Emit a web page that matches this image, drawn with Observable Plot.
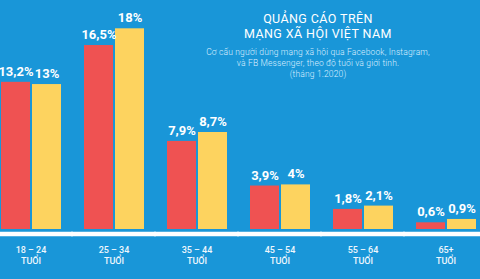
<!DOCTYPE html>
<html>
<head>
<meta charset="utf-8">
<script src="https://cdn.jsdelivr.net/npm/d3@7"></script>
<script src="https://cdn.jsdelivr.net/npm/@observablehq/plot@0.6"></script>
<style>
  html, body { margin: 0; padding: 0; background: #1996d8; }
  #wrap { position: relative; width: 480px; height: 279px; overflow: hidden; background: #1996d8; }
  #title { position: absolute; left: 198px; width: 240px; top: 0; text-align: center; color: #fff; font-family: Roboto, "Noto Sans", sans-serif; }
  #title .t { font-size: 12.5px; line-height: 14.5px; letter-spacing: 0.4px; margin-top: 12px; }
  #title .s { font-size: 8.5px; line-height: 11px; letter-spacing: 0.15px; color: #dcefff; margin-top: 6px; font-weight: 300; }
  svg { overflow: visible; }
</style>
</head>
<body>
<div id="wrap">
  <div id="chart"></div>
  <div id="title">
    <div class="t">QUẢNG CÁO TRÊN<br>MẠNG XÃ HỘI VIỆT NAM</div>
    <div class="s">Cơ cấu người dùng mạng xã hội qua Facebook, Instagram,<br>và FB Messenger, theo độ tuổi và giới tính.<br>(tháng 1.2020)</div>
  </div>
</div>
<script>
const groups = ["18 – 24", "25 – 34", "35 – 44", "45 – 54", "55 – 64", "65+"];
const groupSuffix = "TUỔI";
const series = ["Nam", "Nữ"];
const redValues = [13.2, 16.5, 7.9, 3.9, 1.8, 0.6];
const yellowValues = [13, 18, 8.7, 4, 2.1, 0.9];
const colors = ["#ef5252", "#fdd35f"];

const data = [];
groups.forEach((g, i) => {
  data.push({group: g, sex: series[0], value: redValues[i]});
  data.push({group: g, sex: series[1], value: yellowValues[i]});
});
const fmt = v => String(v).replace(".", ",") + "%";

const chart = Plot.plot({
  width: 480,
  height: 279,
  marginLeft: 0,
  marginRight: 3.5,
  marginTop: 6,
  marginBottom: 50,
  style: {background: "transparent", color: "white", overflow: "visible"},
  fx: {domain: groups, paddingInner: 0.266, paddingOuter: 0, axis: null, label: null},
  x: {domain: series, paddingInner: 0.07, paddingOuter: 0, axis: null},
  y: {domain: [0, 20], axis: null},
  color: {domain: series, range: colors},
  marks: [
    Plot.barY(data, {fx: "group", x: "sex", y: "value", fill: "sex"}),
    Plot.ruleY([0], {stroke: "white", strokeWidth: 4.5, dy: 4.5, insetLeft: -12, insetRight: -12}),
    Plot.text(data, {fx: "group", x: "sex", y: "value", text: d => fmt(d.value), dy: -6.5, lineAnchor: "bottom",
      fill: "white", fontSize: 13, fontWeight: "bold", fontFamily: "Roboto, sans-serif"}),
    Plot.text(groups, {fx: d => d, y: () => 0, text: d => d + "\n" + groupSuffix, lineAnchor: "bottom", lineHeight: 1.22,
      dy: 34.7, fill: "#eef7fd", fontSize: 9, fontWeight: 500, fontFamily: "Roboto, sans-serif"})
  ]
});
document.getElementById("chart").appendChild(chart);
</script>
</body>
</html>
